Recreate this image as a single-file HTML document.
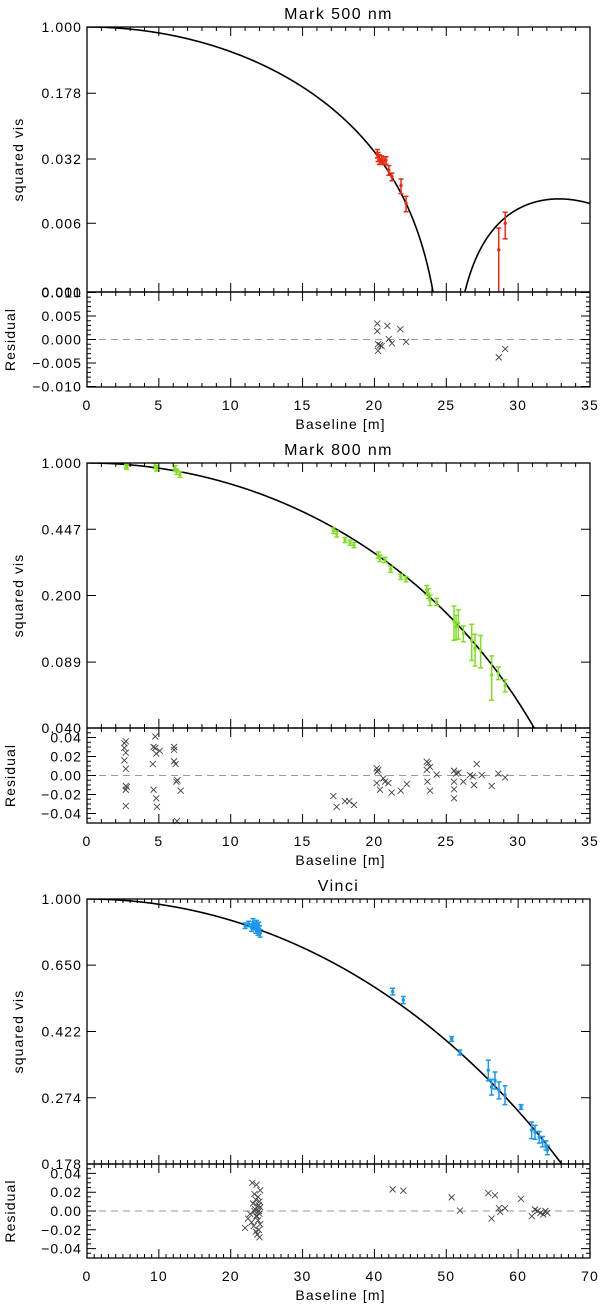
<!DOCTYPE html>
<html><head><meta charset="utf-8">
<style>
html,body{margin:0;padding:0;background:#fff;}
svg{display:block;font-family:"Liberation Sans",sans-serif;}
</style></head>
<body>
<svg id="chart" width="600" height="1305" viewBox="0 0 600 1305" xmlns="http://www.w3.org/2000/svg"></svg>
<script>
// ---- Panel 1: Mark 500 nm ----
const p1Baselines = [20.2, 20.25, 20.34, 20.5, 20.67, 20.8, 21.0, 21.22, 21.85, 22.2, 28.65, 29.1];
const p1Vis = [0.037, 0.034, 0.0318, 0.0318, 0.0307, 0.031, 0.024, 0.0202, 0.016, 0.0101, 0.003, 0.006];
const p1Err = [0.004, 0.004, 0.004, 0.003, 0.003, 0.003, 0.003, 0.002, 0.003, 0.002, 0.0023, 0.002];
const p1ResB = [20.2, 20.2, 20.9, 21.8, 21.0, 21.22, 22.2, 20.25, 20.4, 20.5, 20.25, 28.65, 29.1];
const p1Res = [0.0034, 0.0018, 0.0029, 0.0022, 0.0001, -0.0008, -0.0005, -0.001, -0.0012, -0.0014, -0.0024, -0.0038, -0.002];
const p1YTicks = [1.000, 0.178, 0.032, 0.006, 0.001];
const p1YLabels = ["1.000", "0.178", "0.032", "0.006", "0.001"];
const p1RTicks = [0.010, 0.005, 0.000, -0.005, -0.010];
const p1RLabels = ["0.010", "0.005", "0.000", "\u22120.005", "\u22120.010"];
const p1XTicks = [0, 5, 10, 15, 20, 25, 30, 35];

// ---- Panel 2: Mark 800 nm ----
const p2Baselines = [2.71, 2.76, 4.73, 4.85, 6.12, 6.24, 6.47, 17.14, 17.37, 17.95, 18.3, 18.58, 20.27, 20.39, 20.74, 21.13, 21.83, 22.2, 23.64, 23.75, 23.87, 24.33, 25.54, 25.68, 25.84, 26.19, 26.77, 27.0, 27.39, 28.16, 28.62, 29.09];
const p2Vis = [0.976, 0.956, 0.964, 0.937, 0.937, 0.90, 0.87, 0.44, 0.422, 0.392, 0.38, 0.369, 0.327, 0.314, 0.308, 0.275, 0.251, 0.244, 0.214, 0.205, 0.189, 0.185, 0.146, 0.137, 0.143, 0.126, 0.116, 0.105, 0.103, 0.076, 0.078, 0.067];
const p2Err = [0.03, 0.03, 0.03, 0.03, 0.03, 0.03, 0.03, 0.015, 0.015, 0.012, 0.012, 0.012, 0.012, 0.012, 0.01, 0.01, 0.008, 0.008, 0.012, 0.012, 0.012, 0.008, 0.03, 0.02, 0.025, 0.012, 0.025, 0.02, 0.02, 0.02, 0.006, 0.005];
const p2ResB = [2.6, 2.7, 2.6, 2.7, 2.6, 2.7, 2.7, 2.77, 2.7, 2.7, 4.75, 4.63, 4.75, 4.82, 5.06, 4.58, 4.63, 4.82, 4.87, 6.06, 6.06, 6.06, 6.17, 6.29, 6.22, 6.52, 6.26, 17.14, 17.37, 17.95, 18.25, 18.58, 20.16, 20.2, 20.27, 20.16, 20.39, 20.62, 20.74, 20.97, 21.2, 21.83, 22.25, 23.64, 23.75, 23.87, 23.64, 23.69, 23.87, 24.33, 25.54, 25.68, 25.84, 25.54, 25.54, 25.54, 26.19, 26.65, 26.84, 26.93, 27.12, 27.47, 28.16, 28.62, 29.09];
const p2Res = [0.034, 0.036, 0.029, 0.024, 0.016, 0.007, -0.011, -0.012, -0.015, -0.032, 0.041, 0.030, 0.029, 0.023, 0.026, 0.012, -0.015, -0.024, -0.033, 0.030, 0.027, 0.015, 0.012, -0.005, -0.0065, -0.016, -0.048, -0.0216, -0.033, -0.027, -0.027, -0.031, 0.0076, 0.004, 0.006, -0.008, -0.015, -0.003, -0.0065, -0.008, -0.018, -0.016, -0.009, 0.0145, 0.013, 0.009, 0.006, -0.0065, -0.016, 0.001, 0.005, 0.002, 0.003, -0.0065, -0.0145, -0.024, -0.0065, 0.0005, -0.001, -0.010, 0.012, 0.0005, -0.011, 0.002, -0.002];
const p2YTicks = [1.000, 0.447, 0.200, 0.089, 0.040];
const p2YLabels = ["1.000", "0.447", "0.200", "0.089", "0.040"];
const p2RTicks = [0.04, 0.02, 0.00, -0.02, -0.04];
const p2RLabels = ["0.04", "0.02", "0.00", "\u22120.02", "\u22120.04"];
const p2XTicks = [0, 5, 10, 15, 20, 25, 30, 35];

// ---- Panel 3: Vinci ----
const p3Baselines = [22.0, 22.5, 22.9, 23.1, 23.3, 23.5, 23.6, 23.7, 23.8, 23.9, 24.0, 24.1, 42.54, 44.02, 50.75, 51.9, 55.85, 56.3, 56.78, 57.33, 58.17, 60.4, 61.88, 62.35, 62.94, 63.41, 63.87, 64.06];
const p3Vis = [0.84, 0.85, 0.83, 0.86, 0.84, 0.82, 0.85, 0.83, 0.81, 0.84, 0.82, 0.80, 0.547, 0.518, 0.402, 0.368, 0.328, 0.294, 0.307, 0.288, 0.279, 0.258, 0.222, 0.219, 0.212, 0.206, 0.201, 0.195];
const p3Err = [0.015, 0.015, 0.02, 0.02, 0.02, 0.02, 0.02, 0.02, 0.02, 0.02, 0.02, 0.02, 0.012, 0.012, 0.006, 0.006, 0.022, 0.015, 0.017, 0.016, 0.017, 0.004, 0.012, 0.01, 0.008, 0.007, 0.006, 0.006];
const p3ResB = [22.0, 22.4, 22.7, 22.9, 23.0, 23.1, 23.2, 23.3, 23.4, 23.5, 23.5, 23.6, 23.6, 23.7, 23.7, 23.8, 23.8, 23.9, 23.9, 24.0, 24.0, 24.1, 24.1, 24.1, 23.3, 23.6, 23.9, 24.0, 42.54, 44.02, 50.75, 51.9, 55.85, 56.78, 56.3, 57.33, 57.5, 58.17, 60.4, 61.9, 62.35, 62.7, 63.1, 63.5, 63.8, 64.06];
const p3Res = [-0.018, -0.008, -0.003, -0.012, 0.030, 0.008, -0.016, 0.018, 0.002, -0.022, 0.012, 0.028, -0.005, 0.005, -0.025, 0.015, -0.010, 0.000, -0.020, 0.010, -0.028, 0.004, -0.014, 0.022, 0.000, -0.006, 0.006, -0.003, 0.023, 0.0216, 0.0145, 0.0005, 0.019, 0.0167, -0.008, 0.003, -0.001, 0.003, 0.013, -0.0055, 0.0016, 0.0, -0.002, -0.0037, 0.0, -0.002];
const p3YTicks = [1.000, 0.650, 0.422, 0.274, 0.178];
const p3YLabels = ["1.000", "0.650", "0.422", "0.274", "0.178"];
const p3RTicks = [0.04, 0.02, 0.00, -0.02, -0.04];
const p3RLabels = ["0.04", "0.02", "0.00", "\u22120.02", "\u22120.04"];
const p3XTicks = [0, 10, 20, 30, 40, 50, 60, 70];

const svg = document.getElementById('chart');
const NS = 'http://www.w3.org/2000/svg';
function mk(tag, attrs, parent) {
  const e = document.createElementNS(NS, tag);
  for (const k in attrs) e.setAttribute(k, attrs[k]);
  (parent || svg).appendChild(e);
  return e;
}

function J1(x) {
  let s = 0, term = x / 2, k = 0;
  const q = -(x * x) / 4;
  while (k < 60) {
    s += term;
    k++;
    term *= q / (k * (k + 1));
    if (Math.abs(term) < 1e-16) break;
  }
  return s;
}
const U = 0.55;
function vis(x) {
  if (x < 1e-6) return 1;
  const a = J1(x) / x;
  const b = (Math.sin(x) / x - Math.cos(x)) / (x * x);
  return ((1 - U) * a + U * b) / ((1 - U) / 2 + U / 3);
}
let lo = 3, hi = 5;
for (let i = 0; i < 60; i++) { const m = (lo + hi) / 2; if (vis(m) > 0) lo = m; else hi = m; }
const X0 = (lo + hi) / 2;

const L = 87, R = 590;
const TF = 14, TS = 1.1;

function txt(g, attrs, s, name) {
  const t = mk('text', Object.assign({'font-size': TF, 'letter-spacing': TS, fill: '#000'}, attrs), g);
  t.textContent = s;
  
  
  return t;
}

function panel(cfg) {
  const g = mk('g', {});
  
  
  const xs = b => L + (b - cfg.xmin) / (cfg.xmax - cfg.xmin) * (R - L);
  const lmin = Math.log10(cfg.ymin);
  const ys = v => cfg.top + (Math.log10(v) / lmin) * (cfg.mid - cfg.top);
  const rc = (cfg.mid + cfg.bot) / 2;
  const rs = r => rc - r / cfg.rlim * ((cfg.bot - cfg.mid) / 2);

  txt(g, {x: (L + R) / 2, y: cfg.top - 8, 'text-anchor': 'middle', 'font-size': 16, 'letter-spacing': 1.4}, cfg.title, 'panel-title');

  const clip = mk('clipPath', {id: 'clip' + cfg.id}, g);
  mk('rect', {x: L, y: cfg.top, width: R - L, height: cfg.mid - cfg.top}, clip);
  let d = '', pen = false;
  for (let i = 0; i <= 1500; i++) {
    const b = cfg.xmin + (cfg.xmax - cfg.xmin) * i / 1500;
    const v = vis(X0 * b / cfg.bzero);
    const v2 = v * v;
    if (v2 < cfg.ymin * 0.3) { pen = false; continue; }
    d += (pen ? 'L' : 'M') + xs(b).toFixed(2) + ' ' + ys(v2).toFixed(2);
    pen = true;
  }
  const cv = mk('path', {d: d, fill: 'none', stroke: '#000', 'stroke-width': 1.6, 'clip-path': 'url(#clip' + cfg.id + ')'}, g);
  
  

  const pg = mk('g', {'clip-path': 'url(#clip' + cfg.id + ')'}, g);
  
  
  for (let i = 0; i < cfg.b.length; i++) {
    const x = xs(cfg.b[i]);
    const y = ys(cfg.v[i]);
    const y1 = ys(cfg.v[i] + cfg.e[i]);
    const lowV = cfg.v[i] - cfg.e[i];
    const y2 = lowV > 0 ? ys(lowV) : cfg.mid + 5;
    const eb = mk('path', {d: `M${x} ${y1}L${x} ${y2}M${x - 2.5} ${y1}L${x + 2.5} ${y1}M${x - 2.5} ${y2}L${x + 2.5} ${y2}`, stroke: cfg.color, 'stroke-width': 1.5, fill: 'none'}, pg);
    
    
    const dot = mk('circle', {cx: x, cy: y, r: 1.7, fill: cfg.color}, pg);
    
    
  }

  const zl = mk('line', {x1: L, x2: R, y1: rs(0), y2: rs(0), stroke: '#999', 'stroke-width': 1, 'stroke-dasharray': '7,5'}, g);
  
  
  for (let i = 0; i < cfg.rb.length; i++) {
    const x = xs(cfg.rb[i]), y = rs(cfg.r[i]);
    const m = mk('path', {d: `M${x - 3} ${y - 3}L${x + 3} ${y + 3}M${x - 3} ${y + 3}L${x + 3} ${y - 3}`, stroke: '#444', 'stroke-width': 0.9, fill: 'none'}, g);
    
    
  }

  const fr = mk('rect', {x: L, y: cfg.top, width: R - L, height: cfg.bot - cfg.top, fill: 'none', stroke: '#000', 'stroke-width': 1.3}, g);
  
  
  const sep = mk('line', {x1: L, x2: R, y1: cfg.mid, y2: cfg.mid, stroke: '#000', 'stroke-width': 1.6}, g);
  
  

  let td = '';
  for (let b = cfg.xmin; b <= cfg.xmax + 1e-9; b += cfg.minor) {
    const x = xs(b);
    const major = cfg.xticks.some(v => Math.abs(v - b) < 1e-9);
    const len = major ? 9 : 4;
    td += `M${x} ${cfg.top}l0 ${len}M${x} ${cfg.mid}l0 ${-len}M${x} ${cfg.mid}l0 ${len}M${x} ${cfg.bot}l0 ${-len}`;
  }
  cfg.yticks.forEach(v => { const y = ys(v); td += `M${L} ${y}l9 0M${R} ${y}l-9 0`; });
  const rmin = -cfg.rlim;
  for (let r = Math.ceil(rmin / cfg.rminor) * cfg.rminor; r <= cfg.rlim + 1e-12; r += cfg.rminor) {
    const y = rs(r);
    const major = cfg.rticks.some(v => Math.abs(v - r) < 1e-9);
    const len = major ? 9 : 4;
    td += `M${L} ${y}l${len} 0M${R} ${y}l${-len} 0`;
  }
  const tk = mk('path', {d: td, stroke: '#000', 'stroke-width': 1, fill: 'none'}, g);
  
  

  cfg.xticks.forEach(v => {
    txt(g, {x: xs(v), y: cfg.bot + 23, 'text-anchor': 'middle'}, String(v), 'x-tick-label');
  });
  cfg.yticks.forEach((v, i) => {
    txt(g, {x: 82, y: ys(v) + 5, 'text-anchor': 'end'}, cfg.ylabels[i], 'y-tick-label');
  });
  cfg.rticks.forEach((v, i) => {
    txt(g, {x: 82, y: rs(v) + 5, 'text-anchor': 'end'}, cfg.rlabels[i], 'residual-tick-label');
  });
  txt(g, {x: (L + R) / 2 + 2, y: cfg.bot + 42, 'text-anchor': 'middle'}, 'Baseline [m]', 'x-axis-title');
  const yc = (cfg.top + cfg.mid) / 2;
  txt(g, {x: 23, y: yc, 'text-anchor': 'middle', transform: `rotate(-90 23 ${yc})`}, 'squared vis', 'y-axis-title');
  txt(g, {x: 15, y: rc, 'text-anchor': 'middle', transform: `rotate(-90 15 ${rc})`}, 'Residual', 'residual-axis-title');
}

panel({id: 1, name: 'panel-mark-500nm', title: 'Mark 500 nm', top: 27, mid: 292, bot: 387, xmin: 0, xmax: 35, ymin: 0.001,
  bzero: 25.1, color: '#ee2a14', b: p1Baselines, v: p1Vis, e: p1Err, rb: p1ResB, r: p1Res,
  rlim: 0.0101, rminor: 0.001, rticks: p1RTicks, rlabels: p1RLabels, yticks: p1YTicks, ylabels: p1YLabels, xticks: p1XTicks, minor: 1});
panel({id: 2, name: 'panel-mark-800nm', title: 'Mark 800 nm', top: 463, mid: 728, bot: 823, xmin: 0, xmax: 35, ymin: 0.04,
  bzero: 39.2, color: '#80e020', b: p2Baselines, v: p2Vis, e: p2Err, rb: p2ResB, r: p2Res,
  rlim: 0.05, rminor: 0.005, rticks: p2RTicks, rlabels: p2RLabels, yticks: p2YTicks, ylabels: p2YLabels, xticks: p2XTicks, minor: 1});
panel({id: 3, name: 'panel-vinci', title: 'Vinci', top: 899, mid: 1164, bot: 1258, xmin: 0, xmax: 70, ymin: 0.178,
  bzero: 106, color: '#1a98ee', b: p3Baselines, v: p3Vis, e: p3Err, rb: p3ResB, r: p3Res,
  rlim: 0.05, rminor: 0.005, rticks: p3RTicks, rlabels: p3RLabels, yticks: p3YTicks, ylabels: p3YLabels, xticks: p3XTicks, minor: 1});
</script>
</body></html>
